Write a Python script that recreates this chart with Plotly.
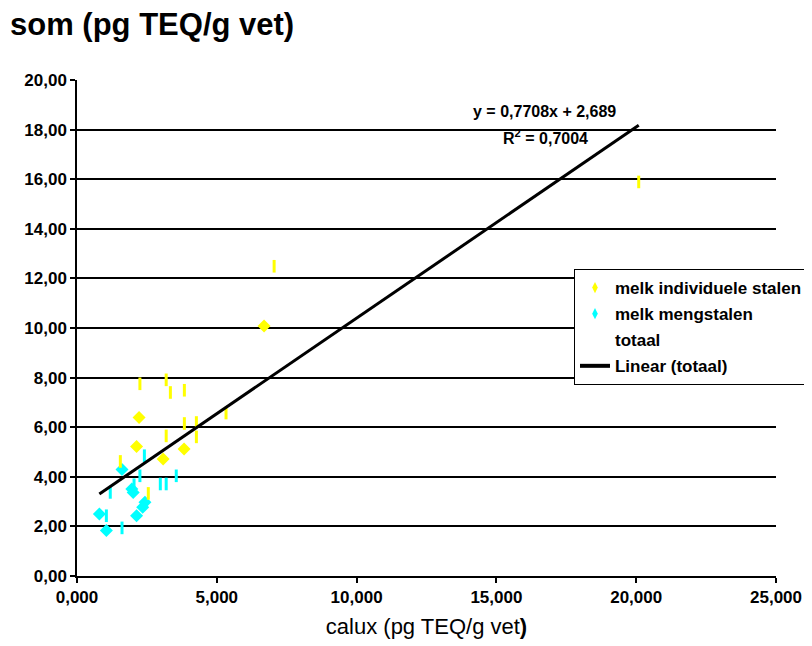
import plotly.graph_objects as go

# melk individuele stalen (yellow)
ind_diamond_x = [2.22, 2.13, 3.83, 3.08, 6.69]
ind_diamond_y = [6.39, 5.22, 5.12, 4.72, 10.08]
ind_dash_x = [2.25, 3.19, 3.34, 3.84, 3.84, 4.27, 4.27, 3.19, 1.55, 2.55, 5.33, 7.05, 20.09]
ind_dash_y = [7.75, 7.91, 7.40, 7.49, 6.15, 6.19, 5.61, 5.65, 4.62, 3.33, 6.57, 12.49, 15.89]

# melk mengstalen (cyan)
meng_diamond_x = [1.61, 1.96, 2.01, 2.43, 2.35, 2.13, 0.80, 1.05]
meng_diamond_y = [4.29, 3.51, 3.37, 2.97, 2.77, 2.43, 2.50, 1.83]
meng_dash_x = [2.41, 2.25, 3.55, 2.98, 3.19, 2.04, 1.19, 1.05, 1.61]
meng_dash_y = [4.85, 4.04, 4.04, 3.71, 3.71, 3.68, 3.37, 2.43, 1.94]

slope = 0.7708
intercept = 2.689
eq_text = "y = 0,7708x + 2,689"
r2_text = "R<sup>2</sup> = 0,7004"

all_x = ind_diamond_x + ind_dash_x + meng_diamond_x + meng_dash_x
x_fit = [min(all_x), max(all_x)]
y_fit = [slope * v + intercept for v in x_fit]

YEL = "#FFFF00"
CYA = "#00FFFF"
FONT = "Liberation Sans, Arial, sans-serif"

fig = go.Figure()
# data marks
fig.add_trace(go.Scatter(x=ind_diamond_x, y=ind_diamond_y, mode="markers", showlegend=False,
                         marker=dict(symbol="diamond", size=10, color=YEL, line=dict(width=0))))
fig.add_trace(go.Scatter(x=meng_diamond_x, y=meng_diamond_y, mode="markers", showlegend=False,
                         marker=dict(symbol="diamond", size=10, color=CYA, line=dict(width=0))))
fig.add_trace(go.Scatter(x=ind_dash_x, y=ind_dash_y, mode="markers", showlegend=False,
                         marker=dict(symbol="line-ns", size=9, line=dict(width=3, color=YEL))))
fig.add_trace(go.Scatter(x=meng_dash_x, y=meng_dash_y, mode="markers", showlegend=False,
                         marker=dict(symbol="line-ns", size=9, line=dict(width=3, color=CYA))))
fig.add_trace(go.Scatter(x=x_fit, y=y_fit, mode="lines", showlegend=False,
                         line=dict(color="black", width=3)))

# legend entries
fig.add_trace(go.Scatter(x=[None], y=[None], mode="markers", name="melk individuele stalen",
                         legendgroup="a", marker=dict(symbol="diamond-tall", size=8, color=YEL)))
fig.add_trace(go.Scatter(x=[None], y=[None], mode="markers", name="melk mengstalen",
                         legendgroup="b", marker=dict(symbol="diamond-tall", size=8, color=CYA)))
fig.add_trace(go.Scatter(x=[None], y=[None], mode="markers", name="totaal", legendgroup="c",
                         marker=dict(size=8, color="rgba(0,0,0,0)")))
fig.add_trace(go.Scatter(x=[None], y=[None], mode="lines", name="Linear (totaal)", legendgroup="d",
                         line=dict(color="black", width=4)))

fig.add_annotation(x=16.72, y=18.75, xref="x", yref="y", text=eq_text, showarrow=False,
                   font=dict(family=FONT, size=16, color="black", weight="bold"))
fig.add_annotation(x=16.75, y=17.7, xref="x", yref="y", text=r2_text, showarrow=False,
                   font=dict(family=FONT, size=16, color="black", weight="bold"))

fig.update_layout(
    width=812, height=646,
    margin=dict(l=69, r=44, t=72, b=78, autoexpand=False),
    paper_bgcolor="white", plot_bgcolor="white",
    separators=",.",
    font=dict(family=FONT, size=13, color="black"),
    title=dict(text="<b>som (pg TEQ/g vet)</b>", x=2/812, xanchor="left", y=1-16/646, yanchor="middle",
               font=dict(family=FONT, size=31, color="black")),
    showlegend=True,
    legend=dict(x=0.711, y=0.619, xanchor="left", yanchor="top",
                bordercolor="black", borderwidth=1, bgcolor="white",
                tracegroupgap=1, itemwidth=30,
                font=dict(family=FONT, size=17, color="black", weight="bold")),
    xaxis=dict(range=[0, 25], dtick=5, tick0=0, tickformat=".3f", showgrid=False, zeroline=False,
               showline=True, linecolor="black", linewidth=1.5, ticks="outside", ticklen=5,
               tickcolor="black", tickwidth=1.5, tickprefix="<b>", ticksuffix="</b>",
               tickfont=dict(family=FONT, size=17, weight="bold"),
               title=dict(text="calux (pg TEQ/g vet<b>)</b>", font=dict(family=FONT, size=22), standoff=12)),
    yaxis=dict(range=[0, 20], dtick=2, tick0=0, tickformat=".2f", showgrid=True, gridcolor="black",
               gridwidth=1.5, zeroline=False, showline=True, linecolor="black", linewidth=1.5,
               ticks="outside", ticklen=5, tickcolor="black", tickwidth=1.5,
               tickprefix="<b>", ticksuffix="</b>",
               tickfont=dict(family=FONT, size=17, weight="bold")),
)

fig.write_html("out.html")
